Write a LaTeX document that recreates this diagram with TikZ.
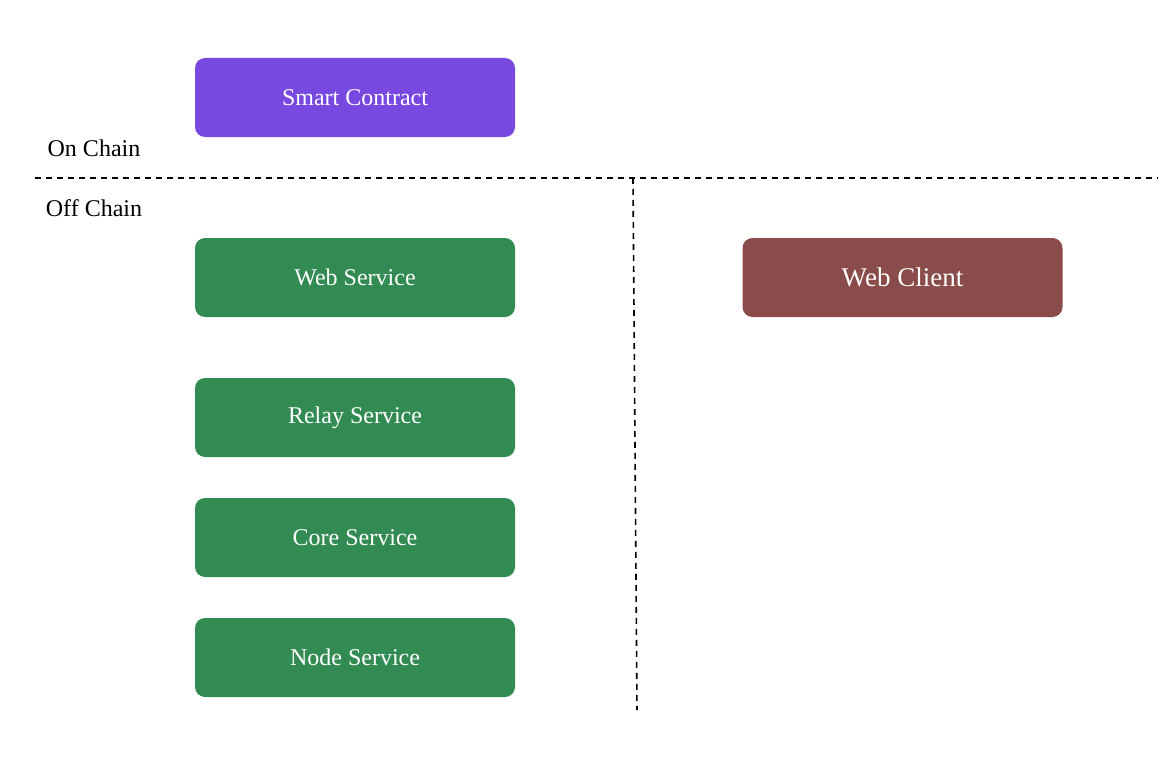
\documentclass[tikz,border=0pt]{standalone}
\usepackage{fontspec}
\setmainfont{Liberation Serif}
\definecolor{chainpurple}{RGB}{119,73,224}
\definecolor{svcgreen}{RGB}{51,139,84}
\definecolor{clientbrown}{RGB}{138,75,75}
\tikzset{
  box/.style={rectangle, rounded corners=10pt, minimum width=320pt, minimum height=79pt,
    inner sep=0pt, text=white, font=\fontsize{24}{28}\selectfont},
  svc/.style={box, fill=svcgreen},
  lbl/.style={inner sep=0pt, text=black, font=\fontsize{24}{28}\selectfont},
  divider/.style={draw=black, line width=1.6pt, dash pattern=on 6pt off 5pt}
}
\begin{document}
\begin{tikzpicture}[x=1pt,y=-1pt]
\useasboundingbox (0,0) rectangle (1168,760);
\fill[white] (0,0) rectangle (1168,760);
\coordinate (hl) at (35,178);
\coordinate (hr) at (1158,178);
\coordinate (vt) at (633,178);
\coordinate (vb) at (637,710);
\draw[divider] (hl) -- (hr);
\draw[divider] (vt) -- (vb);
\node[box, fill=chainpurple] (sc) at (355,97.5) {Smart Contract};
\node[lbl] (on) at (94,148) {On Chain};
\node[lbl] (off) at (94,208) {Off Chain};
\node[svc] (web) at (355,277.5) {Web Service};
\node[svc] (relay) at (355,417.5) {Relay Service};
\node[svc] (core) at (355,537.5) {Core Service};
\node[svc] (nodes) at (355,657.5) {Node Service};
\node[box, fill=clientbrown, font=\fontsize{27}{31}\selectfont] (client) at (902.5,277.5) {Web Client};
\end{tikzpicture}
\end{document}
